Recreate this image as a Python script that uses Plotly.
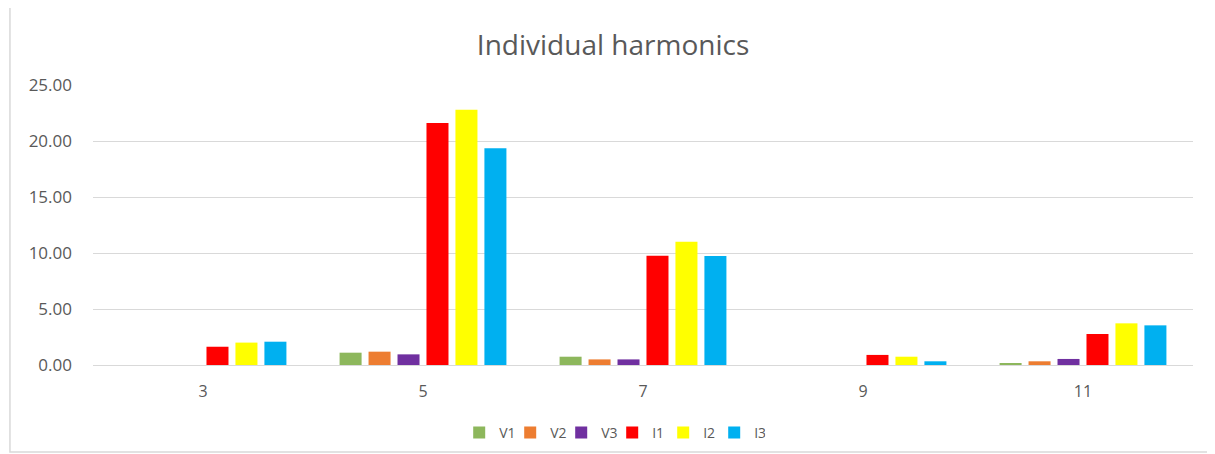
import plotly.graph_objects as go

categories = ["3", "5", "7", "9", "11"]
series_names = ["V1", "V2", "V3", "I1", "I2", "I3"]
V1 = [0.0, 1.10, 0.74, 0.0, 0.10]
V2 = [0.0, 1.19, 0.50, 0.0, 0.33]
V3 = [0.0, 0.95, 0.50, 0.0, 0.54]
I1 = [1.63, 21.6, 9.76, 0.90, 2.77]
I2 = [2.00, 22.8, 11.0, 0.74, 3.72]
I3 = [2.08, 19.35, 9.73, 0.33, 3.54]
series_values = [V1, V2, V3, I1, I2, I3]
colors = ["#8DB75C", "#ED7D31", "#7030A0", "#FF0000", "#FFFF00", "#00B0F0"]
y_ticks = [0, 5, 10, 15, 20, 25]
y_ticklabels = ["0.00", "5.00", "10.00", "15.00", "20.00", "25.00"]

fig = go.Figure()
for name, vals, col in zip(series_names, series_values, colors):
    fig.add_trace(go.Bar(x=categories, y=vals, name=name, marker=dict(color=col, line=dict(width=0))))

font_family = "Open Sans, Noto Sans, sans-serif"
fig.update_layout(
    width=1215, height=454,
    margin=dict(l=85, r=30, t=77, b=97, autoexpand=False),
    paper_bgcolor="white", plot_bgcolor="white",
    barmode="group", bargap=0.21, bargroupgap=0.24,
    title=dict(text="Individual harmonics", x=0.498, xanchor="center", y=0.9185, yanchor="middle",
               font=dict(family=font_family, size=28, color="#595959")),
    font=dict(family=font_family, color="#595959"),
    legend=dict(orientation="h", x=0.472, xanchor="center", yref="container", y=0.064, yanchor="middle",
                font=dict(size=14, color="#595959"), itemwidth=30, traceorder="normal",
                entrywidth=6, entrywidthmode="pixels"),
    xaxis=dict(type="category", showgrid=False, showline=True, linecolor="#D9D9D9", linewidth=1,
               ticks="", tickfont=dict(size=16, color="#595959"), ticklabelstandoff=12),
    yaxis=dict(range=[0, 25], tickvals=y_ticks, ticktext=y_ticklabels, showgrid=True,
               gridcolor="#D9D9D9", gridwidth=1, zeroline=False, showline=False,
               tickfont=dict(size=17, color="#595959"), ticklabelstandoff=20),
    shapes=[dict(type="rect", xref="paper", yref="paper", x0=-0.0755, x1=1.05, y0=-0.311, y1=1.2786,
                 line=dict(color="#D9D9D9", width=1.5), fillcolor="rgba(0,0,0,0)", layer="below")],
)

fig.write_html("out.html")
